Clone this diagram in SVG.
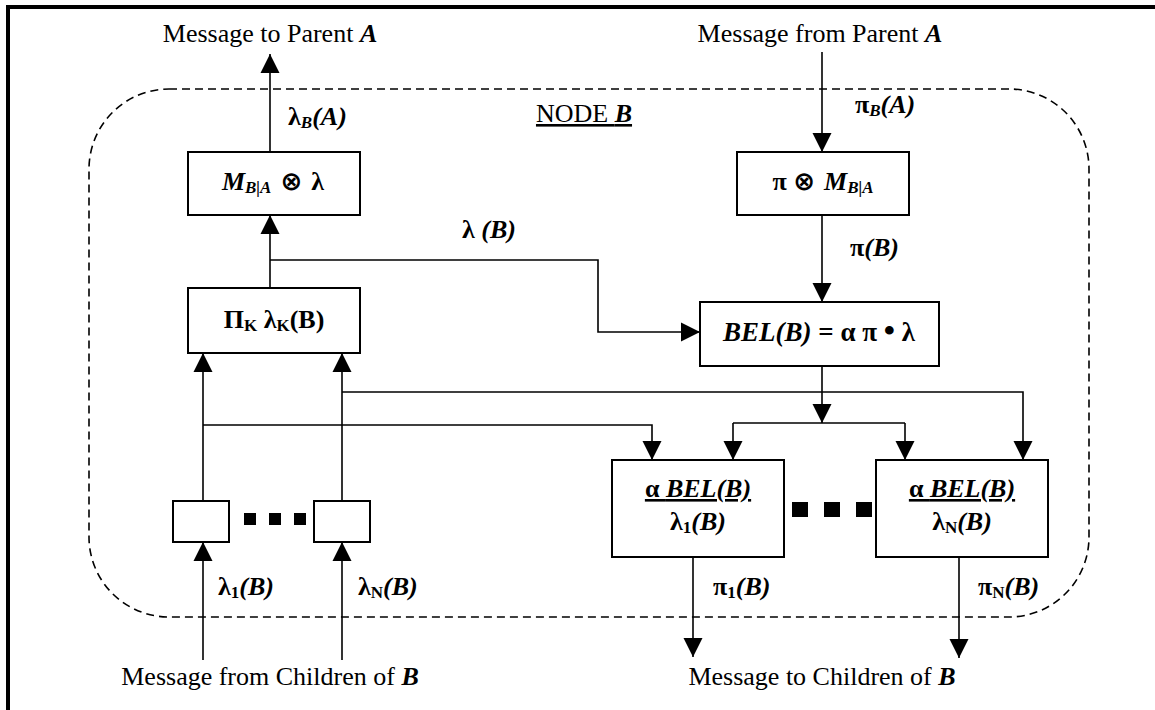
<svg xmlns="http://www.w3.org/2000/svg" width="1155" height="710" viewBox="0 0 1155 710">
  <style>
    text { font-family: "Liberation Serif", "DejaVu Serif", serif; font-size: 26px; fill: #000; }
    .b { font-weight: bold; }
    .bi { font-weight: bold; font-style: italic; }
    .sub { font-size: 17px; }
    .op { font-family: "DejaVu Sans", sans-serif; font-weight: bold; font-size: 26px; }
    .box { fill: #fff; stroke: #000; stroke-width: 2; }
    .wire { fill: none; stroke: #000; stroke-width: 1.6; }
    .arr { fill: none; stroke: #000; stroke-width: 1.6; marker-end: url(#head); }
    .dot { fill: #000; }
  </style>
  <defs>
    <marker id="head" viewBox="0 0 20 20" refX="20" refY="10" markerWidth="19" markerHeight="20" markerUnits="userSpaceOnUse" orient="auto">
      <path d="M0,0 L20,10 L0,20 z" fill="#000"/>
    </marker>
  </defs>

  <rect width="1155" height="710" fill="#fff"/>
  <!-- frame -->
  <path d="M8,710 V7 H1155" fill="none" stroke="#000" stroke-width="4"/>

  <!-- node boundary -->
  <g id="node-b">
    <rect x="89" y="89" width="1000" height="528" rx="80" ry="80" fill="none" stroke="#000" stroke-width="1.6" stroke-dasharray="8,5"/>
    <text x="584" y="122" text-anchor="middle" text-decoration="underline">NODE <tspan class="bi">B</tspan></text>
  </g>

  <!-- connectors -->
  <g id="connectors">
    <path class="arr" d="M270,152 V54"/>
    <path class="arr" d="M270,288 V215"/>
    <path class="arr" d="M270,260 H598 V332 H700"/>
    <path class="arr" d="M203,501 V353"/>
    <path class="arr" d="M342,501 V353"/>
    <path class="arr" d="M203,425 H652 V460"/>
    <path class="arr" d="M342,392 H1023 V460"/>
    <path class="arr" d="M822,52 V152"/>
    <path class="arr" d="M822,215 V302"/>
    <path class="arr" d="M822,366 V423"/>
    <path class="wire" d="M733,423 H905"/>
    <path class="arr" d="M733,423 V460"/>
    <path class="arr" d="M905,423 V460"/>
    <path class="arr" d="M203,660 V542"/>
    <path class="arr" d="M342,660 V542"/>
    <path class="arr" d="M693,557 V657"/>
    <path class="arr" d="M959,557 V658"/>
  </g>

  <!-- connector labels -->
  <g id="labels">
    <text x="270" y="42" text-anchor="middle">Message to Parent <tspan class="bi">A</tspan></text>
    <text x="820" y="42" text-anchor="middle">Message from Parent <tspan class="bi">A</tspan></text>
    <text x="270" y="685" text-anchor="middle">Message from Children of <tspan class="bi">B</tspan></text>
    <text x="822" y="685" text-anchor="middle">Message to Children of <tspan class="bi">B</tspan></text>
    <text x="288" y="125" class="b">λ<tspan class="bi sub" dy="3">B</tspan><tspan class="bi" dy="-3">(A)</tspan></text>
    <text x="855" y="113" class="b">π<tspan class="bi sub" dy="3">B</tspan><tspan class="bi" dy="-3">(A)</tspan></text>
    <text x="462" y="238" class="b">λ <tspan class="bi">(B)</tspan></text>
    <text x="850" y="256" class="b">π<tspan class="bi">(B)</tspan></text>
    <text x="218" y="595" class="b">λ<tspan class="sub" dy="3">1</tspan><tspan class="bi" dy="-3">(B)</tspan></text>
    <text x="358" y="595" class="b">λ<tspan class="sub" dy="3">N</tspan><tspan class="bi" dy="-3">(B)</tspan></text>
    <text x="713" y="595" class="b">π<tspan class="sub" dy="3">1</tspan><tspan class="bi" dy="-3">(B)</tspan></text>
    <text x="978" y="595" class="b">π<tspan class="sub" dy="3">N</tspan><tspan class="bi" dy="-3">(B)</tspan></text>
  </g>

  <g id="lambda-to-parent">
    <rect class="box" x="188" y="152" width="172" height="63"/>
    <text x="273" y="190" text-anchor="middle"><tspan class="bi">M</tspan><tspan class="bi sub" dy="3">B|A</tspan><tspan class="op" dy="-3"> ⊗ </tspan><tspan class="b">λ</tspan></text>
  </g>

  <g id="lambda-product">
    <rect class="box" x="188" y="288" width="172" height="65"/>
    <text x="274" y="328" text-anchor="middle" class="b">Π<tspan class="sub" dy="3">K</tspan><tspan dy="-3"> λ</tspan><tspan class="sub" dy="3">K</tspan><tspan dy="-3">(B)</tspan></text>
  </g>

  <g id="pi-from-parent">
    <rect class="box" x="737" y="152" width="172" height="63"/>
    <text x="823" y="190" text-anchor="middle"><tspan class="b">π </tspan><tspan class="op">⊗ </tspan><tspan class="bi">M</tspan><tspan class="bi sub" dy="3">B|A</tspan></text>
  </g>

  <g id="belief">
    <rect class="box" x="700" y="302" width="239" height="64"/>
    <text x="819" y="341" text-anchor="middle" style="font-size:27px"><tspan class="bi">BEL(B)</tspan><tspan class="b"> = α π </tspan><tspan class="b" style="font-size:32px">•</tspan><tspan class="b"> λ</tspan></text>
  </g>

  <g id="child-in-1">
    <rect class="box" x="173" y="501" width="56" height="41"/>
  </g>
  <g id="child-in-n">
    <rect class="box" x="314" y="501" width="56" height="41"/>
  </g>
  <g id="child-in-dots">
    <rect class="dot" x="244" y="513" width="12" height="12"/>
    <rect class="dot" x="269" y="513" width="12" height="12"/>
    <rect class="dot" x="294" y="513" width="12" height="12"/>
  </g>

  <g id="pi-child-1">
    <rect class="box" x="612" y="460" width="172" height="97"/>
    <text x="698" y="497" text-anchor="middle" text-decoration="underline"><tspan class="b">α </tspan><tspan class="bi">BEL(B)</tspan></text>
    <text x="698" y="530" text-anchor="middle" class="b">λ<tspan class="sub" dy="3">1</tspan><tspan class="bi" dy="-3">(B)</tspan></text>
  </g>
  <g id="pi-child-n">
    <rect class="box" x="876" y="460" width="172" height="97"/>
    <text x="962" y="497" text-anchor="middle" text-decoration="underline"><tspan class="b">α </tspan><tspan class="bi">BEL(B)</tspan></text>
    <text x="962" y="530" text-anchor="middle" class="b">λ<tspan class="sub" dy="3">N</tspan><tspan class="bi" dy="-3">(B)</tspan></text>
  </g>
  <g id="child-out-dots">
    <rect class="dot" x="792" y="502" width="16" height="15"/>
    <rect class="dot" x="824" y="502" width="16" height="15"/>
    <rect class="dot" x="856" y="502" width="16" height="15"/>
  </g>
</svg>
